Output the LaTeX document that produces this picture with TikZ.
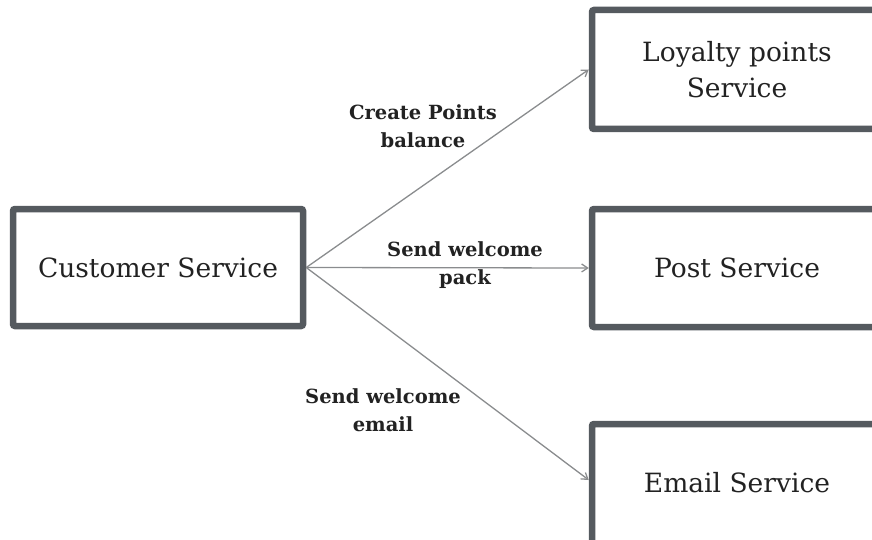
\documentclass[tikz,border=0pt]{standalone}
\usepackage{fontspec}
\setmainfont{DejaVu Serif}
\usetikzlibrary{arrows.meta}
\definecolor{boxline}{HTML}{555A5F}
\definecolor{flow}{HTML}{8A8C8E}
\definecolor{ink}{HTML}{222222}
\tikzset{
  svc/.style={draw=boxline, line width=6.5pt, rounded corners=2pt, fill=white,
    text=ink, font=\fontsize{26.5}{36}\selectfont, align=center, inner sep=0pt},
  flowline/.style={draw=flow, line width=1.3pt, -{Straight Barb[length=6pt,width=8pt]}},
  lbl/.style={font=\bfseries\fontsize{19.5}{28}\selectfont, text=ink, align=center, inner sep=0pt}
}
\begin{document}
\begin{tikzpicture}[x=1pt,y=-1pt]
  \useasboundingbox (0,0) rectangle (872,540);
  \clip (0,0) rectangle (872,540);
  % services
  \node[svc, minimum width=290pt, minimum height=117pt] (cust) at (158,267.5) {Customer Service};
  \node[svc, minimum width=300pt, minimum height=119pt] (loyal) at (742,69.5) {};
  \node[svc, minimum width=300pt, minimum height=118pt] (post) at (742,268) {};
  \node[svc, minimum width=300pt, minimum height=136pt] (email) at (742,492) {};
  \node[svc, draw=none, fill=none] (loyaltxt) at (737,70) {Loyalty points\\Service};
  \node[svc, draw=none, fill=none] (posttxt) at (737,268) {Post Service};
  \node[svc, draw=none, fill=none] (emailtxt) at (737,483) {Email Service};
  % flows
  \draw[flowline] (cust.east) -- (loyal.west);
  \draw[flowline] (cust.east) -- (post.west);
  \draw[flowline] (cust.east) -- ([yshift=12pt]email.west);
  % flow labels
  \node[lbl] (l1) at (423,126) {Create Points\\balance};
  \node[lbl] (l2) at (465,265) {Send welcome\\pack};
  \node[lbl] (l3) at (383,410) {Send welcome\\email};
\end{tikzpicture}
\end{document}
